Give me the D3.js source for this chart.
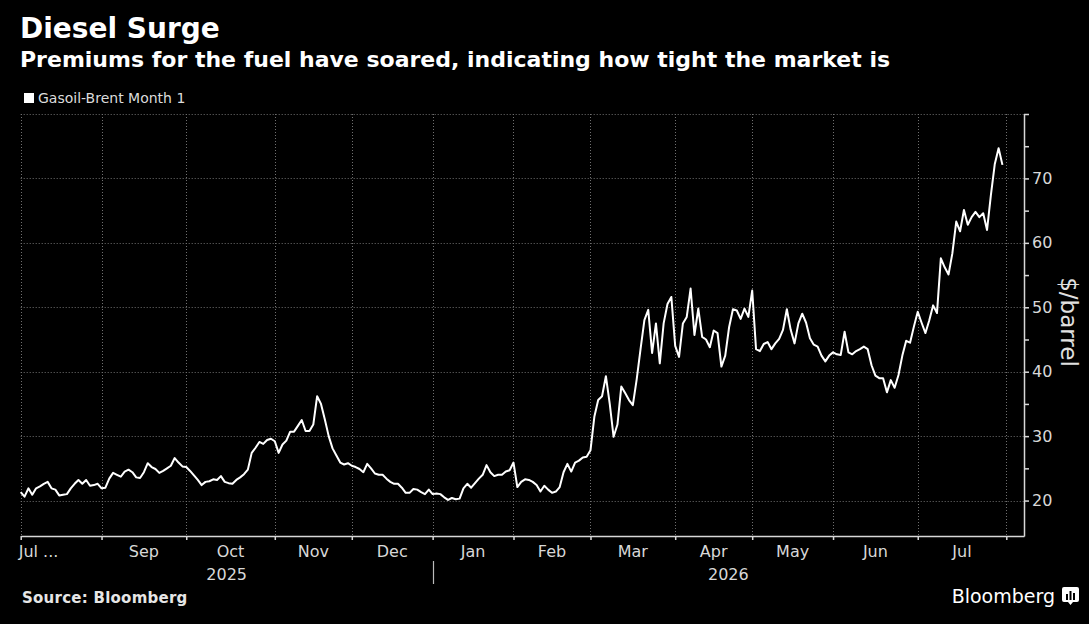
<!DOCTYPE html>
<html>
<head>
<meta charset="utf-8">
<script src="https://cdn.jsdelivr.net/npm/d3@7"></script>
<style>
  html, body { margin: 0; background: #000; }
  svg { display: block; font-family: "DejaVu Sans", sans-serif; }
</style>
</head>
<body>
<div class="diesel"></div>
<script>
// Gasoil-Brent month 1 spread, $/barrel, one value per trading day
var aug25 = [21.3, 20.6, 21.9, 20.9, 21.9, 22.2, 22.6, 22.9, 21.9, 21.7, 20.8, 20.9, 21.0, 21.9, 22.6, 23.2, 22.6, 23.2, 22.3, 22.4, 22.6]
var sep25 = [21.9, 22.0, 23.4, 24.3, 24.0, 23.7, 24.5, 24.8, 24.4, 23.6, 23.5, 24.4, 25.8, 25.2, 24.9, 24.3, 24.6, 25.0, 25.4, 26.6, 25.9, 25.3]
var oct25 = [25.2, 24.6, 23.9, 23.2, 22.4, 22.9, 23.0, 23.3, 23.2, 23.8, 22.9, 22.7, 22.6, 23.2, 23.6, 24.1, 24.8, 27.4, 28.2, 29.1, 28.8, 29.4, 29.6]
var nov25 = [29.2, 27.4, 28.7, 29.3, 30.7, 30.7, 31.6, 32.5, 30.8, 30.8, 31.8, 36.2, 35.0, 32.6, 30.0, 28.1, 27.0, 25.9, 25.6, 25.8]
var dec25 = [25.4, 25.2, 24.9, 24.4, 25.7, 25.0, 24.2, 24.0, 24.0, 23.4, 22.9, 22.6, 22.6, 22.0, 21.2, 21.2, 21.8, 21.7, 21.3, 21.0, 21.7]
var jan26 = [21.0, 21.1, 21.0, 20.5, 20.1, 20.4, 20.2, 20.3, 21.9, 22.6, 22.0, 22.7, 23.4, 24.0, 25.5, 24.4, 23.8, 24.0, 24.0, 24.5, 24.7]
var feb26 = [25.9, 22.1, 22.9, 23.3, 23.2, 22.9, 22.4, 21.4, 22.3, 21.7, 21.2, 21.4, 22.1, 24.4, 25.7, 24.5, 25.9, 26.2, 26.7, 26.8]
var mar26 = [27.8, 33.0, 35.6, 36.2, 39.3, 35.0, 29.9, 31.8, 37.7, 36.7, 35.6, 34.8, 38.8, 43.5, 48.0, 49.6, 42.9, 47.5, 41.3, 47.5, 50.5, 51.6]
var apr26 = [44.0, 42.3, 47.5, 48.5, 52.9, 45.7, 49.8, 45.4, 45.0, 43.8, 46.4, 46.0, 40.8, 42.5, 46.9, 49.7, 49.5, 48.2, 49.8, 48.5]
var may26 = [52.6, 43.5, 43.2, 44.3, 44.6, 43.5, 44.4, 45.1, 46.5, 49.7, 46.5, 44.4, 47.5, 49.0, 47.6, 45.2, 44.2, 43.9, 42.5, 41.6, 42.5]
var jun26 = [43.0, 42.7, 42.6, 46.2, 43.0, 42.7, 43.2, 43.5, 43.9, 43.5, 41.0, 39.4, 39.0, 39.0, 36.8, 38.7, 37.5, 39.5, 42.5, 44.8, 44.5, 47.0]
var jul26 = [49.3, 47.6, 46.0, 48.0, 50.3, 49.1, 57.6, 56.2, 55.1, 58.4, 63.3, 61.8, 65.1, 62.8, 64.0, 64.8, 64.0, 64.6, 62.0, 67.4, 72.2, 74.7, 72.1]

var monthLabels = ["Jul ...", "Sep", "Oct", "Nov", "Dec", "Jan", "Feb", "Mar", "Apr", "May", "Jun", "Jul"]
var yearLabels = ["2025", "2026"]
var yLabels = [20, 30, 40, 50, 60, 70]

var width = 1089,
  height = 624;

var svg = d3.select(".diesel").append("svg")
  .attr("width", width)
  .attr("height", height)

svg.append("rect").attr("width", width).attr("height", height).attr("fill", "#000")

var months = [aug25, sep25, oct25, nov25, dec25, jan26, feb26, mar26, apr26, may26, jun26, jul26]
var starts = [],
  n = 0;
months.forEach(function(m) {
  starts.push(n);
  n += m.length
})
starts.push(n)
var values = d3.merge(months)

var plotLeft = 20.7,
  plotRight = 1024,
  plotTop = 114,
  plotBottom = 536,
  tailDays = 4.6;

var x = d3.scaleLinear().domain([0, n + tailDays]).range([plotLeft, plotRight])
var y = d3.scaleLinear().domain([14.5, 80]).range([plotBottom, plotTop])

// titles
svg.append("text").attr("x", 20).attr("y", 38)
  .attr("fill", "#fff").attr("font-size", 28).attr("font-weight", "bold")
  .text("Diesel Surge")
svg.append("text").attr("x", 20).attr("y", 67)
  .attr("fill", "#fff").attr("font-size", 22).attr("font-weight", "bold")
  .text("Premiums for the fuel have soared, indicating how tight the market is")

// legend
svg.append("rect").attr("x", 24).attr("y", 93).attr("width", 10).attr("height", 10).attr("fill", "#fff")
svg.append("text").attr("x", 38).attr("y", 103)
  .attr("fill", "#dcdcdc").attr("font-size", 14)
  .text("Gasoil-Brent Month 1")

// grid
var grid = svg.append("g").attr("stroke", "#707070").attr("stroke-width", 1).attr("stroke-dasharray", "1,2")
grid.selectAll("line.h")
  .data(d3.range(20, 81, 10))
  .enter().append("line")
  .attr("class", "h")
  .attr("x1", plotLeft).attr("x2", plotRight)
  .attr("y1", d => Math.round(y(d)) + 0.5).attr("y2", d => Math.round(y(d)) + 0.5)
grid.selectAll("line.v")
  .data(starts)
  .enter().append("line")
  .attr("class", "v")
  .attr("x1", d => Math.round(x(d)) + 0.5).attr("x2", d => Math.round(x(d)) + 0.5)
  .attr("y1", plotTop).attr("y2", plotBottom)

// x axis
var xAxis = svg.append("g")
  .attr("transform", `translate(0,${plotBottom})`)
  .call(d3.axisBottom(x).tickValues(starts).tickSize(4).tickSizeOuter(0).tickFormat(""))
xAxis.selectAll("path, line").attr("stroke", "#d8d8d8").attr("stroke-width", 1.5)

svg.append("g").selectAll("text")
  .data(monthLabels)
  .enter().append("text")
  .attr("x", (d, i) => i === 0 ? x(0) - 2 : x((starts[i] + starts[i + 1]) / 2))
  .attr("y", 557)
  .attr("text-anchor", (d, i) => i === 0 ? "start" : "middle")
  .attr("fill", "#d8d8d8").attr("font-size", 16)
  .text(d => d)

var yearBounds = [[0, starts[5]], [starts[5], n + tailDays]]
svg.append("g").selectAll("text")
  .data(yearLabels)
  .enter().append("text")
  .attr("x", (d, i) => x((yearBounds[i][0] + yearBounds[i][1]) / 2))
  .attr("y", 580)
  .attr("text-anchor", "middle")
  .attr("fill", "#d8d8d8").attr("font-size", 16)
  .text(d => d)
svg.append("line")
  .attr("x1", Math.round(x(starts[5])) + 0.5).attr("x2", Math.round(x(starts[5])) + 0.5)
  .attr("y1", 561).attr("y2", 584)
  .attr("stroke", "#bbb").attr("stroke-width", 1.2)

// y axis
var yAxis = svg.append("g")
  .attr("transform", `translate(${plotRight},0)`)
  .call(d3.axisRight(y).tickValues(d3.range(20, 81, 5)).tickSize(5).tickSizeOuter(0)
    .tickFormat(d => yLabels.indexOf(d) >= 0 ? d : ""))
yAxis.selectAll("path, line").attr("stroke", "#d8d8d8").attr("stroke-width", 1.5)
yAxis.selectAll("text").attr("fill", "#d8d8d8").attr("font-size", 16)
  .attr("font-family", "DejaVu Sans, sans-serif").attr("x", 8)

svg.append("text")
  .attr("transform", "translate(1061,322) rotate(90)")
  .attr("text-anchor", "middle")
  .attr("fill", "#e0e0e0").attr("font-size", 23)
  .text("$/barrel")

// series line
var line = d3.line()
  .x((d, i) => x(i))
  .y(d => y(d))

svg.append("path")
  .datum(values)
  .attr("d", line)
  .attr("fill", "none")
  .attr("stroke", "#fff")
  .attr("stroke-width", 2)
  .attr("stroke-linejoin", "round")

// footer
svg.append("text").attr("x", 22).attr("y", 603)
  .attr("fill", "#e6e6e6").attr("font-size", 15).attr("font-weight", "bold")
  .attr("letter-spacing", 0.25)
  .text("Source: Bloomberg")
svg.append("text").attr("x", 1055).attr("y", 603)
  .attr("text-anchor", "end")
  .attr("fill", "#fff").attr("font-size", 19)
  .text("Bloomberg")

var logo = svg.append("g").attr("transform", "translate(1062,587)")
logo.append("path")
  .attr("d", "M2,0 H15 Q17,0 17,2 V13 Q17,15 15,15 H11 L8.5,18 L6,15 H2 Q0,15 0,13 V2 Q0,0 2,0 Z")
  .attr("fill", "#fff")
logo.selectAll("rect")
  .data([[4, 7, 2, 6], [7.5, 4, 2, 9], [11, 6, 2, 7]])
  .enter().append("rect")
  .attr("x", d => d[0]).attr("y", d => d[1]).attr("width", d => d[2]).attr("height", d => d[3])
  .attr("fill", "#000")
</script>
</body>
</html>
